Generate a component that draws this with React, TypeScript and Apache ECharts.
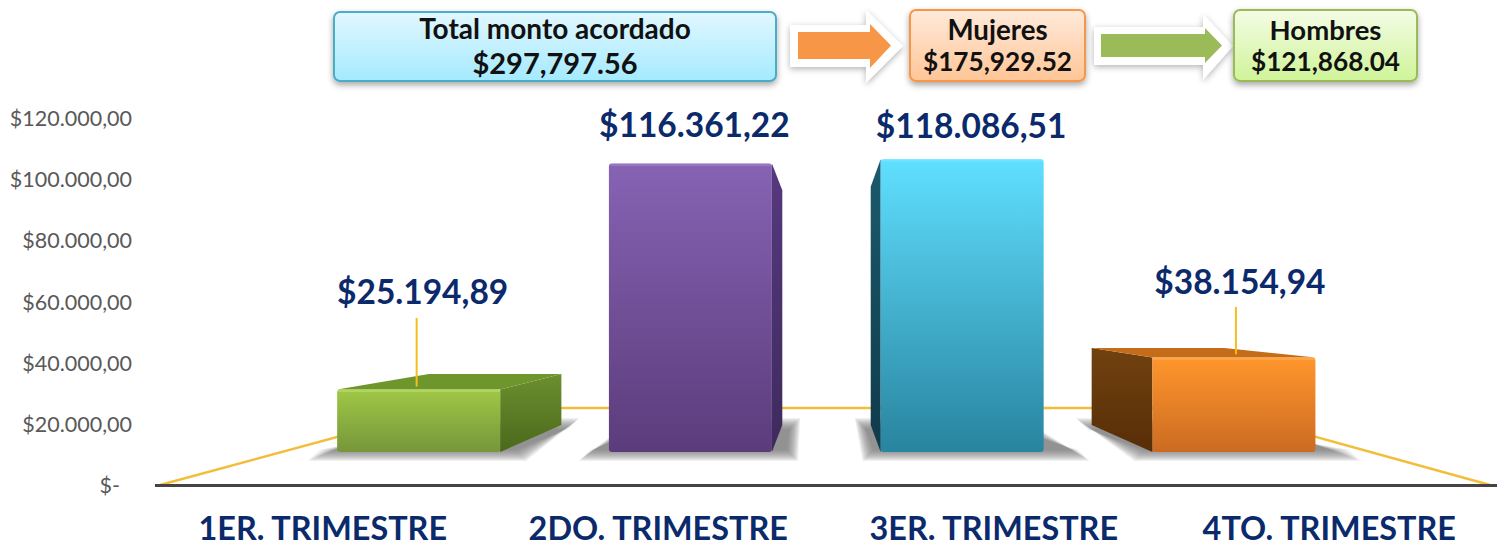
import React, { useEffect, useRef } from "react";
import * as echarts from "echarts";

const categories = ["1ER. TRIMESTRE", "2DO. TRIMESTRE", "3ER. TRIMESTRE", "4TO. TRIMESTRE"];
const values = [25194.89, 116361.22, 118086.51, 38154.94];
const yTickLabels = ["$-", "$20.000,00", "$40.000,00", "$60.000,00", "$80.000,00", "$100.000,00", "$120.000,00"];
const banner = [
  { title: "Total monto acordado", amount: "$297,797.56" },
  { title: "Mujeres", amount: "$175,929.52" },
  { title: "Hombres", amount: "$121,868.04" },
];

const FONT = "Lato, Carlito, sans-serif";
const NAVY = "#0B2A6B";
const GOLD = "#F2BE3A";
const VP = { x: 827.5, y: 307, k: 0.813 };
const FRONT_SCALE = 0.81;
const BAR_WIDTH = 163;
const labelDx = [4, 4, 9, 6];
const labelDy = [-99, -39.5, -34.5, -76];
const leaders = [
  { dx: -2, top: 318, bottomDy: -3 },
  null,
  null,
  { dx: 2, top: 307, bottomDy: -3 },
];
const faces = [
  { front: ["#A0C846", "#76963A"], side: ["#6C8F2E", "#4B691C"], top: "#6F962C", edge: "#B4D860" },
  { front: ["#8763B4", "#5B3C7B"], side: ["#56397E", "#3E2A5C"], top: "#56397E", edge: "#9A7CC8" },
  { front: ["#60DFFF", "#28849F"], side: ["#1C5A6C", "#103A4A"], top: "#1C5A6C", edge: "#6FE4FF" },
  { front: ["#FF962C", "#CB6B22"], side: ["#71410F", "#582E08"], top: "#C46C18", edge: "#FFA848" },
];
const shadowInsets = [0, 1, 2, 3, 4, 5, 6, 7, 8, 9, 10, 11];

const fmt = (v: number) => {
  const [i, d] = v.toFixed(2).split(".");
  return "$" + i.replace(/\B(?=(\d{3})+$)/g, ".") + "," + d;
};
const vgrad = (a: string, b: string) => ({
  type: "linear", x: 0, y: 0, x2: 0, y2: 1,
  colorStops: [{ offset: 0, color: a }, { offset: 1, color: b }],
});

const renderBar = (params: any, api: any) => {
  const i = api.value(0);
  const [cx, yTop] = api.coord([i, api.value(1)]);
  const [, yBase] = api.coord([i, 0]);
  const center = VP.x + (cx - VP.x) * FRONT_SCALE;
  const L = center - BAR_WIDTH / 2;
  const R = center + BAR_WIDTH / 2;
  const bx = (x: number) => VP.x + (x - VP.x) * VP.k;
  const by = (y: number) => VP.y + (y - VP.y) * VP.k;
  const f = faces[i];
  const sideX = cx < VP.x ? R : L;
  const children: any[] = [];
  const rear = by(yBase);
  shadowInsets.forEach((d) => {
    children.push({
      type: "polygon",
      shape: {
        points: [
          [bx(L) - 16 + d, rear - 7 + d],
          [bx(R) + 18 - d, rear - 7 + d],
          [R + (cx < VP.x ? 26 : 46) - d, yBase + 9 - d],
          [L - (cx < VP.x ? 30 : 18) + d, yBase + 9 - d],
        ],
      },
      style: { fill: "#707070", opacity: 0.1 },
    });
  });
  children.push({
    type: "polygon",
    shape: { points: [[sideX, yTop], [bx(sideX), by(yTop)], [bx(sideX), by(yBase)], [sideX, yBase]] },
    style: { fill: vgrad(f.side[0], f.side[1]) },
  });
  if (yTop > VP.y) {
    children.push({
      type: "polygon",
      shape: { points: [[L, yTop], [R, yTop], [bx(R), by(yTop)], [bx(L), by(yTop)]] },
      style: { fill: f.top },
    });
  }
  children.push({
    type: "rect",
    shape: { x: L, y: yTop, width: R - L, height: yBase - yTop, r: 3 },
    style: { fill: vgrad(f.front[0], f.front[1]) },
  });
  children.push({
    type: "rect",
    shape: { x: L + 0.5, y: yTop + 0.5, width: R - L - 1, height: 2, r: 1 },
    style: { fill: f.edge, opacity: 0.8 },
  });
  const lead = leaders[i];
  if (lead) {
    const x = center + lead.dx;
    children.push({
      type: "line",
      shape: { x1: x, y1: lead.top, x2: x, y2: yTop + lead.bottomDy },
      style: { stroke: "#F5BE1E", lineWidth: 2 },
    });
  }
  children.push({
    type: "text",
    style: {
      text: fmt(api.value(1)),
      x: center + labelDx[i],
      y: yTop + labelDy[i],
      align: "center",
      verticalAlign: "middle",
      fill: NAVY,
      font: `bold 33.5px ${FONT}`,
    },
  });
  return { type: "group", children };
};

const boxes = [
  { x: 334, y: 12, w: 442, h: 69, top: "#E2F7FF", bottom: "#A4EAFF", stroke: "#4BACC6", ty: 28, ay: 62, ts: 28, as: 29 },
  { x: 910, y: 10, w: 175, h: 71, top: "#FFEADB", bottom: "#FFC596", stroke: "#F79646", ty: 29, ay: 61, ts: 27.7, as: 26.2 },
  { x: 1234, y: 10, w: 183, h: 71, top: "#F4FCE6", bottom: "#CFF498", stroke: "#9BBB59", ty: 29, ay: 61, ts: 27.5, as: 26.2 },
];
const arrow = (x0: number, x1: number, xh: number, y0: number, y1: number, h0: number, h1: number) => [
  [x0, y0], [xh, y0], [xh, h0], [x1, (y0 + y1) / 2], [xh, h1], [xh, y1], [x0, y1],
];

const bannerGraphics = () => {
  const g: any[] = [];
  g.push({
    type: "polyline",
    z: 1,
    shape: { points: [[160, 485], [444, 408], [1211, 408], [1490, 485]] },
    style: { stroke: GOLD, lineWidth: 2.4, fill: "none" },
  });
  const arrows = [
    { white: arrow(790, 903, 866, 25, 67, 10, 83), fill: arrow(798, 891, 870, 32, 59, 24, 68), color: "#F79646" },
    { white: arrow(1094, 1233, 1203, 27, 65, 14, 80), fill: arrow(1101, 1222, 1205, 34, 57, 28, 63), color: "#9BBB59" },
  ];
  arrows.forEach((a) => {
    g.push({
      type: "polygon", z: 5,
      shape: { points: a.white },
      style: { fill: "#FFFFFF", shadowBlur: 6, shadowColor: "rgba(0,0,0,0.3)", shadowOffsetY: 2 },
    });
    g.push({ type: "polygon", z: 6, shape: { points: a.fill }, style: { fill: a.color } });
  });
  boxes.forEach((b, i) => {
    g.push({
      type: "rect", z: 7,
      shape: { x: b.x, y: b.y, width: b.w, height: b.h, r: 6 },
      style: {
        fill: vgrad(b.top, b.bottom), stroke: b.stroke, lineWidth: 2,
        shadowBlur: 6, shadowColor: "rgba(0,0,0,0.35)", shadowOffsetY: 3,
      },
    });
    const cx = b.x + b.w / 2;
    g.push({
      type: "text", z: 8,
      style: { text: banner[i].title, x: cx, y: b.ty, align: "center", verticalAlign: "middle", fill: "#111", font: `bold ${b.ts}px ${FONT}` },
    });
    g.push({
      type: "text", z: 8,
      style: { text: banner[i].amount, x: cx, y: b.ay, align: "center", verticalAlign: "middle", fill: "#111", font: `bold ${b.as}px ${FONT}` },
    });
  });
  return g;
};

export default function App() {
  const ref = useRef<HTMLDivElement>(null);
  useEffect(() => {
    document.body.style.margin = "0";
    const chart = echarts.init(ref.current!, null, { renderer: "svg" });
    chart.setOption({
      animation: false,
      backgroundColor: "#FFFFFF",
      grid: [
        { left: 155, right: 5, top: 118, bottom: 63 },
        { left: 155, right: 5, top: 118, bottom: 96 },
      ],
      xAxis: [
        {
          type: "category", gridIndex: 0, data: categories, z: 3,
          axisTick: { show: false },
          axisLine: { show: true, lineStyle: { color: "#444444", width: 3, cap: "butt" } },
          axisLabel: {
            interval: 0, hideOverlap: false, color: NAVY, fontFamily: FONT, fontWeight: "bold",
            fontSize: 32.4, lineHeight: 30, margin: 27,
          },
        },
        { type: "category", gridIndex: 1, data: categories, show: false },
      ],
      yAxis: [
        {
          type: "value", gridIndex: 0, min: 0, max: 120000, interval: 20000,
          splitLine: { show: false }, axisLine: { show: false }, axisTick: { show: false },
          axisLabel: {
            color: "#595959", fontFamily: FONT, fontSize: 21.5, margin: 23,
            formatter: (v: number) => (v === 0 ? `{z|${yTickLabels[0]}}` : yTickLabels[v / 20000]),
            rich: { z: { color: "#595959", fontFamily: FONT, fontSize: 21.5, padding: [0, 12, 0, 0] } },
          },
        },
        { type: "value", gridIndex: 1, min: 0, max: 134677, show: false, splitLine: { show: false } },
      ],
      graphic: bannerGraphics(),
      series: [
        {
          type: "custom", xAxisIndex: 1, yAxisIndex: 1, z: 4, clip: false,
          renderItem: renderBar,
          encode: { x: 0, y: 1 },
          data: values.map((v, i) => [i, v]),
        },
      ],
    });
    return () => chart.dispose();
  }, []);
  return <div ref={ref} style={{ width: 1502, height: 548 }} />;
}
